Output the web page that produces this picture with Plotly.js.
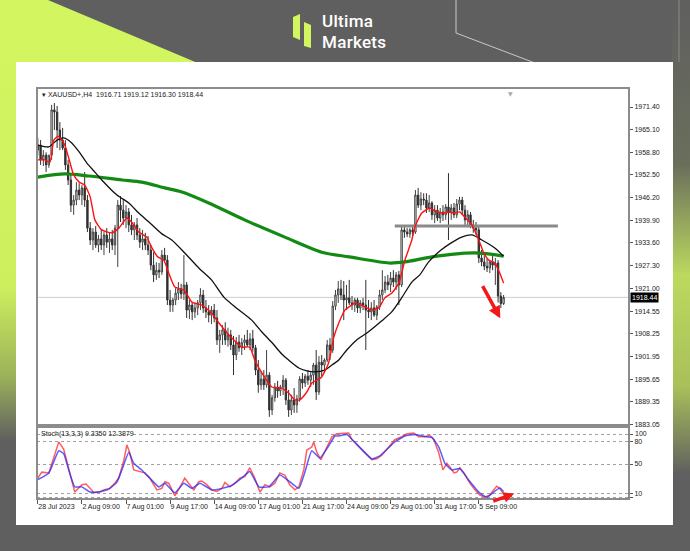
<!DOCTYPE html>
<html><head><meta charset="utf-8">
<script src="https://cdn.plot.ly/plotly-3.0.1.min.js"></script>
<style>
html,body{margin:0;padding:0;width:690px;height:551px;overflow:hidden;background:#5f5f5f;}
#bg{position:absolute;left:0;top:0;}
#panel{position:absolute;left:16px;top:62px;width:657px;height:463px;background:#fff;}
#logo{position:absolute;left:322px;top:11px;color:#fff;font-family:Roboto,'Liberation Sans',sans-serif;font-size:17px;line-height:20.5px;font-weight:500;letter-spacing:0.3px;}
#chart{position:absolute;left:0;top:0;width:690px;height:551px;}
</style></head>
<body>
<svg id="bg" width="690" height="551">
<defs>
<linearGradient id="gl" x1="0" y1="0" x2="0" y2="551" gradientUnits="userSpaceOnUse">
<stop offset="0" stop-color="#d3f660"/><stop offset="0.52" stop-color="#cdef5e"/><stop offset="0.68" stop-color="#9db35a"/><stop offset="0.8" stop-color="#5f5f5f"/><stop offset="1" stop-color="#5f5f5f"/>
</linearGradient>
<linearGradient id="gr" x1="0" y1="0" x2="0" y2="551" gradientUnits="userSpaceOnUse">
<stop offset="0" stop-color="#5f5f5f"/><stop offset="0.3" stop-color="#6a6f5c"/><stop offset="0.5" stop-color="#bcd95e"/><stop offset="0.7" stop-color="#a9c05b"/><stop offset="0.86" stop-color="#5f5f5f"/><stop offset="1" stop-color="#5f5f5f"/>
</linearGradient>
</defs>
<rect x="0" y="0" width="690" height="551" fill="#5f5f5f"/>
<rect x="0" y="0" width="17" height="551" fill="url(#gl)"/>
<polygon points="0,0 48,0 200,64 0,64" fill="#d3f660"/>
<rect x="672" y="0" width="18" height="551" fill="url(#gr)"/>
<polyline points="456,0 456,33 535,63" fill="none" stroke="#c9c9c9" stroke-width="1"/>
<line x1="679" y1="0" x2="679" y2="62" stroke="#8a8a8a" stroke-width="1"/>
<polygon points="293,17 300,14 300,40 293,37" fill="#d3f660"/>
<polygon points="304,22 311,25 311,48 304,46" fill="#d3f660"/>
</svg>
<div id="panel"></div>
<div id="logo">Ultima<br>Markets</div>
<div id="chart"></div>
<script>
// ---- price bars (H4, index 0 = 28 Jul 2023 17:00) ----
const barOpen = [1959.4,1960.8,1956.7,1958.0,1955.3,1958.0,1970.6,1970.0,1965.0,1962.2,
1960.0,1955.3,1951.1,1944.1,1945.5,1948.3,1946.9,1948.9,1945.5,1937.7,
1934.4,1936.6,1933.0,1934.7,1933.0,1935.8,1933.8,1934.7,1933.0,1937.7,
1944.1,1942.7,1940.5,1942.2,1938.6,1937.2,1938.6,1935.8,1933.8,1934.7,
1933.0,1931.6,1927.4,1924.7,1926.0,1925.5,1930.2,1928.8,1917.7,1916.3,
1917.7,1919.6,1920.8,1919.4,1921.9,1914.9,1916.3,1914.4,1915.5,1916.9,
1919.1,1915.5,1914.4,1913.5,1914.9,1912.7,1906.6,1908.0,1909.4,1906.6,
1908.0,1905.2,1902.4,1906.0,1904.4,1905.8,1906.6,1905.2,1906.9,1904.4,
1898.2,1894.1,1895.7,1894.1,1896.8,1887.1,1890.5,1893.5,1892.4,1893.5,
1895.4,1889.9,1887.1,1889.9,1888.5,1890.2,1895.7,1894.6,1896.5,1895.4,
1896.8,1899.6,1892.1,1900.4,1899.6,1901.0,1905.2,1903.8,1916.0,1919.1,
1920.8,1919.1,1917.7,1918.3,1916.9,1916.3,1917.7,1915.5,1916.9,1916.3,
1914.9,1914.4,1915.5,1913.5,1915.8,1919.1,1920.5,1922.7,1921.9,1923.8,
1922.7,1924.7,1921.9,1937.2,1936.6,1936.1,1937.2,1936.6,1946.9,1944.1,
1945.8,1945.5,1943.3,1944.7,1941.4,1942.7,1940.5,1942.2,1941.4,1943.6,
1942.2,1943.3,1941.4,1944.4,1945.5,1942.7,1940.0,1941.4,1938.6,1937.7,
1937.2,1929.4,1928.3,1927.1,1926.6,1928.3,1927.4,1928.0,1918.8,1916.71];
const barHigh = [1962.8,1962.2,1959.4,1958.8,1958.0,1972.0,1972.5,1971.7,1967.2,1965.6,
1962.2,1956.7,1952.5,1946.9,1950.5,1950.2,1949.7,1953.3,1946.9,1939.4,
1937.7,1938.3,1935.8,1937.2,1936.6,1937.7,1936.6,1937.2,1938.6,1945.5,
1946.6,1945.5,1944.1,1943.3,1941.4,1939.4,1940.5,1937.7,1937.2,1936.4,
1935.5,1933.0,1931.0,1928.2,1928.0,1931.6,1932.2,1930.2,1920.5,1918.3,
1921.0,1922.7,1922.2,1930.2,1922.7,1917.7,1917.1,1916.9,1917.7,1921.0,
1920.5,1917.7,1916.3,1916.0,1916.6,1914.9,1909.4,1910.7,1911.5,1910.0,
1909.4,1907.7,1907.4,1908.0,1907.1,1908.0,1909.4,1908.5,1909.4,1905.2,
1901.0,1897.9,1898.2,1903.8,1897.6,1891.3,1894.6,1895.2,1894.1,1896.8,
1896.0,1892.7,1891.3,1893.2,1891.3,1896.5,1897.4,1897.1,1898.2,1897.6,
1900.2,1903.8,1902.1,1902.4,1901.5,1906.6,1907.1,1917.4,1920.5,1923.0,
1923.3,1923.0,1921.9,1923.3,1918.8,1918.3,1918.3,1917.7,1918.3,1923.3,
1917.7,1917.1,1917.7,1916.3,1920.5,1926.0,1924.4,1924.7,1925.5,1926.0,
1925.5,1925.8,1938.3,1938.3,1937.7,1937.7,1938.6,1948.3,1948.9,1947.7,
1947.4,1947.4,1946.9,1945.2,1944.1,1944.1,1943.3,1944.1,1944.4,1953.0,
1944.4,1944.7,1945.8,1946.4,1946.4,1944.1,1942.7,1942.2,1940.0,1939.4,
1938.3,1931.6,1930.2,1929.1,1928.8,1930.2,1929.4,1928.8,1919.9,1919.12];
const barLow = [1958.0,1955.3,1955.0,1953.3,1954.5,1956.7,1965.0,1960.0,1959.4,1959.4,
1953.9,1949.7,1942.2,1941.4,1944.1,1945.5,1944.1,1943.6,1936.6,1933.0,
1931.6,1932.2,1931.0,1931.6,1930.2,1932.2,1930.8,1931.6,1930.2,1926.9,
1939.4,1938.6,1937.7,1936.6,1935.8,1934.4,1934.4,1932.2,1931.6,1931.6,
1930.2,1926.0,1922.7,1923.3,1923.8,1924.7,1928.5,1916.3,1914.4,1914.4,
1916.3,1917.7,1918.0,1917.7,1912.7,1912.4,1912.1,1912.7,1913.5,1914.9,
1914.1,1912.7,1911.5,1911.0,1911.5,1905.2,1903.0,1905.2,1905.2,1904.7,
1903.8,1896.8,1901.0,1903.3,1902.4,1903.8,1904.7,1903.8,1903.3,1896.8,
1891.9,1892.7,1892.7,1893.3,1885.2,1885.7,1889.4,1890.5,1891.0,1891.3,
1888.5,1885.2,1885.7,1886.3,1886.3,1889.4,1893.0,1893.5,1894.1,1893.5,
1894.1,1889.9,1891.3,1896.5,1897.6,1900.4,1901.0,1903.0,1914.9,1916.9,
1917.7,1912.1,1914.9,1916.3,1914.9,1914.4,1914.1,1914.1,1914.9,1903.8,
1912.7,1912.1,1913.0,1912.1,1914.9,1917.7,1919.6,1920.5,1919.9,1921.3,
1920.5,1916.3,1921.3,1935.0,1935.2,1935.0,1935.5,1936.1,1943.3,1942.7,
1944.1,1941.9,1942.2,1940.0,1939.1,1939.7,1939.1,1939.7,1940.0,1934.4,
1940.0,1940.5,1940.5,1942.7,1941.4,1938.6,1938.0,1937.7,1936.4,1935.8,
1928.0,1927.1,1926.0,1925.5,1925.2,1926.0,1921.9,1917.0,1915.5,1916.30];
const barClose = [1960.8,1956.7,1958.0,1955.3,1958.0,1970.6,1970.0,1965.0,1962.2,1960.0,
1955.3,1951.1,1944.1,1945.5,1948.3,1946.9,1948.9,1945.5,1937.7,1934.4,
1936.6,1933.0,1934.7,1933.0,1935.8,1933.8,1934.7,1933.0,1937.7,1944.1,
1942.7,1940.5,1942.2,1938.6,1937.2,1938.6,1935.8,1933.8,1934.7,1933.0,
1931.6,1927.4,1924.7,1926.0,1925.5,1930.2,1928.8,1917.7,1916.3,1917.7,
1919.6,1920.8,1919.4,1921.9,1914.9,1916.3,1914.4,1915.5,1916.9,1919.1,
1915.5,1914.4,1913.5,1914.9,1912.7,1906.6,1908.0,1909.4,1906.6,1908.0,
1905.2,1902.4,1906.0,1904.4,1905.8,1906.6,1905.2,1906.9,1904.4,1898.2,
1894.1,1895.7,1894.1,1896.8,1887.1,1890.5,1893.5,1892.4,1893.5,1895.4,
1889.9,1887.1,1889.9,1888.5,1890.2,1895.7,1894.6,1896.5,1895.4,1896.8,
1899.6,1892.1,1900.4,1899.6,1901.0,1905.2,1903.8,1916.0,1919.1,1920.8,
1919.1,1917.7,1918.3,1916.9,1916.3,1917.7,1915.5,1916.9,1916.3,1914.9,
1914.4,1915.5,1913.5,1915.8,1919.1,1920.5,1922.7,1921.9,1923.8,1922.7,
1924.7,1921.9,1937.2,1936.6,1936.1,1937.2,1936.6,1946.9,1944.1,1945.8,
1945.5,1943.3,1944.7,1941.4,1942.7,1940.5,1942.2,1941.4,1943.6,1942.2,
1943.3,1941.4,1944.4,1945.5,1942.7,1940.0,1941.4,1938.6,1937.7,1937.2,
1929.4,1928.3,1927.1,1926.6,1928.3,1927.4,1928.0,1918.8,1916.7,1918.44];

// ---- moving averages (bar index, price) ----
const redMaIdx = [0,2.5,4.4,5.8,7.3,8.7,9.8,11.2,13,15,17,19,20.7,23.2,26.8,29.4,32.3,34,36.6,39.5,41.4,43.5,45.7,47.5,49.7,53,55.9,59.5,63,65.7,70.4,74,76.9,78.7,81.3,84.9,88.5,91,93.3,95,97.6,99.4,101.2,103,105.5,107.4,109.2,111.4,113.9,115,118.7,121.2,123.7,125.9,128.4,131,133.2,135.7,136.8,139.3,142.2,144.8,147.3,149.1,150.9,153.1,154.9,157.5,160,161.8,163.6,165.8,167.6,169];
const redMaVal = [1956.7,1956.7,1956.1,1962.2,1963.3,1962.2,1960.8,1957.2,1952.5,1950.5,1949.7,1946.4,1940.0,1937.2,1936.4,1937.7,1940.5,1939.4,1936.6,1935.2,1932.2,1929.7,1928.8,1925.2,1921.3,1920.5,1917.1,1916.3,1914.1,1911.3,1907.1,1904.6,1904.6,1901.0,1897.4,1893.5,1893.2,1891.8,1889.9,1889.9,1892.1,1894.6,1895.4,1896.3,1900.2,1907.4,1911.3,1914.9,1916.3,1916.9,1915.8,1914.9,1915.5,1918.3,1919.6,1922.4,1928.8,1934.4,1938.0,1941.9,1943.3,1942.2,1941.9,1942.2,1941.9,1942.2,1940.8,1938.6,1934.4,1930.8,1928.8,1928.0,1925.2,1922.4];
const blackMaIdx = [0,4,7,9.4,12.3,15,17.8,20.7,23.2,28.7,33,36.6,40.3,45,48.6,53.3,58.4,63,67.5,71.5,77.6,81.3,85,88.5,91,94.7,97.6,100.5,104.1,106.7,109.2,112.1,115.7,119.4,124.8,128.4,132,135.7,138.6,141.8,146.3,150,153.8,157.5,161.1,165.8,169];
const blackMaVal = [1960.8,1960.3,1962.2,1962.8,1961.4,1958.9,1955.8,1953.3,1951.1,1946.9,1944.7,1941.9,1939.4,1936.1,1934.4,1930.8,1926.6,1923.3,1918.5,1915.8,1912.1,1908.8,1905.8,1902.7,1901.0,1898.8,1898.0,1897.7,1898.2,1899.6,1901.0,1903.8,1906.6,1908.5,1911.9,1914.4,1918.3,1922.7,1924.7,1928.3,1931.6,1933.6,1935.2,1935.8,1934.4,1932.2,1929.9];
const greenMaIdx = [0,9.8,18.5,30.5,37.7,46,52,62,75,89.6,103,113,127.4,133.2,143,158.6,169];
const greenMaVal = [1951.9,1952.8,1952.2,1951.1,1950.5,1948.9,1947.8,1944.7,1940.0,1935.2,1931.0,1929.7,1928.0,1928.3,1929.7,1930.8,1929.9];

// ---- stochastic (13,3,3) ----
const stochMainIdx = [0,1.45,4,5.5,7.6,9.4,11.2,13.4,16,17.5,19,20.3,22.1,23.9,26,27.9,29.4,31.2,32.3,33.4,34.8,36.6,38.8,40.6,43.2,45,46.1,47.5,49.3,49.7,51.5,53.3,54.5,56.6,58.4,59.5,61.3,63.1,64.9,66.8,67.9,69.7,71.5,73.3,75.1,76.9,78.7,80.6,82.4,84.2,86,87.8,89.6,91.4,93.3,94.7,96.5,97.6,99.4,100.1,101.2,102.7,104.9,106.7,108.5,111.4,112.8,113.9,115,117.6,119.4,121.2,123,124.8,127.4,129.5,132.1,133.9,136.4,138.2,140.4,142.2,143.7,145.5,147,148.4,149.5,151,152,153.1,154.6,156.8,158.6,160.4,162.2,164,165.4,166.5,167.6,169];
const stochMainVal = [31,39,38,55,80,70,42,12,22,23,17,11,12,15,17,24,31,55,76,65,42,40,38,31,15,17,26,24,11,7,18,31,25,15,26,27,22,15,13,17,25,19,24,31,33,45,31,12,22,19,24,38,35,22,15,19,42,69,73,80,66,56,73,87,91,91,92,83,79,69,62,56,57,62,73,83,87,91,92,87,87,89,83,65,42,51,46,38,39,45,38,24,15,8,5,8,15,20,17,9.3];
const stochSigIdx = [0,4,7.6,9.4,11.2,13.4,16,18.9,22.1,25.8,28.6,30.5,33,34.8,37.7,40.6,43.9,46.1,49.7,53,55.9,58.8,63.1,66.8,70.4,74,76.9,80.2,83.8,87.8,91.4,94.7,96.9,99.4,102.3,105.6,107.8,109.2,112.1,113.9,115.7,121.2,124.1,129.5,133.2,136.8,141.1,143,145.5,147.7,150.2,153.1,156.4,160,162.9,165.4,167.6,169];
const stochSigVal = [29,38,68,64,42,19,19,12,12,16,25,42,66,51,42,31,19,24,11,24,17,24,15,17,21,31,40,19,19,35,26,17,39,68,58,75,88,88,90,84,77,57,61,80,88,90,87,86,73,51,42,44,28,12,5,12,17.5,12.4];
const stochLabel = 'Stoch(13,3,3) 9.3350 12.3879';

// ---- axes labels ----
const xTickIdx = [0,16,32,48,64,80,96,112,128,144,160];
const xTickText = ['28 Jul 2023','2 Aug 09:00','7 Aug 01:00','9 Aug 17:00','14 Aug 09:00','17 Aug 01:00','21 Aug 17:00','24 Aug 09:00','29 Aug 01:00','31 Aug 17:00','5 Sep 09:00'];
const priceTicks = [1971.40,1965.10,1958.80,1952.50,1946.20,1939.90,1933.60,1927.30,1921.00,1914.55,1908.25,1901.95,1895.65,1889.35,1883.05];
const stochLevels = [90,80,50,10,5];
const stochLevelText = ['','80','50','10',''];
const stochTopLabel = '100';

// ---- drawn objects ----
const resistLine = {idx:[129.5,188.7], price:[1938.3,1938.3]};
const arrowMain = {fromIdx:161.1, fromPrice:1922.0, toIdx:167.8, toPrice:1912.6};
const arrowStoch = {fromIdx:164.7, fromVal:-1.0, toIdx:172.8, toVal:9.6};
const symbol = 'XAUUSD+,H4';

const idx = barClose.map((_, i) => i);
const n = barClose.length;
const lastClose = barClose[n-1];

const traces = [
  {type:'candlestick', x:idx, open:barOpen, high:barHigh, low:barLow, close:barClose,
   xaxis:'x', yaxis:'y', whiskerwidth:0,
   increasing:{line:{color:'#404040', width:1}, fillcolor:'#ffffff'},
   decreasing:{line:{color:'#303030', width:1}, fillcolor:'#303030'},
   hoverinfo:'skip', showlegend:false},
  {type:'scatter', mode:'lines', x:resistLine.idx, y:resistLine.price, xaxis:'x', yaxis:'y',
   line:{color:'#8a8a8a', width:3}, hoverinfo:'skip'},
  {type:'scatter', mode:'lines', x:greenMaIdx, y:greenMaVal, xaxis:'x', yaxis:'y',
   line:{color:'#138a13', width:3.2, shape:'spline', smoothing:0.8}, hoverinfo:'skip'},
  {type:'scatter', mode:'lines', x:blackMaIdx, y:blackMaVal, xaxis:'x', yaxis:'y',
   line:{color:'#111111', width:1.3, shape:'spline', smoothing:0.6}, hoverinfo:'skip'},
  {type:'scatter', mode:'lines', x:redMaIdx, y:redMaVal, xaxis:'x', yaxis:'y',
   line:{color:'#ff1010', width:1.4, shape:'spline', smoothing:0.5}, hoverinfo:'skip'},
  {type:'scatter', mode:'lines', x:stochMainIdx, y:stochMainVal, xaxis:'x', yaxis:'y2',
   line:{color:'rgba(255,40,40,0.75)', width:1.5}, hoverinfo:'skip'},
  {type:'scatter', mode:'lines', x:stochSigIdx, y:stochSigVal, xaxis:'x', yaxis:'y2',
   line:{color:'rgba(40,40,255,0.75)', width:1.5, shape:'spline', smoothing:0.4}, hoverinfo:'skip'}
];

const tf = {family:'Liberation Sans, Arial, sans-serif', size:7, color:'#222'};
const layout = {
  width:690, height:551,
  paper_bgcolor:'rgba(0,0,0,0)', plot_bgcolor:'rgba(0,0,0,0)',
  margin:{l:37, r:61, t:88, b:52},
  showlegend:false,
  font:tf,
  xaxis:{domain:[0,1], anchor:'y2', range:[-0.3,214.5], showgrid:false, zeroline:false, showline:false,
    tickmode:'array', tickvals:xTickIdx, ticktext:xTickText, ticks:'outside', ticklen:4, tickcolor:'#555',
    tickangle:0, ticklabelposition:'outside right', ticklabelstandoff:1, tickfont:tf, rangeslider:{visible:false}, fixedrange:true},
  yaxis:{domain:[0.18,1], anchor:'x', side:'right', range:[1882.92,1976.69], showgrid:false, zeroline:false, showline:false,
    tickmode:'array', tickvals:priceTicks, ticktext:priceTicks.map(v => v.toFixed(2)), ticks:'outside', ticklen:3, tickcolor:'#555', tickfont:tf},
  yaxis2:{domain:[0,0.1752], anchor:'x', side:'right', range:[2.6,100.2], zeroline:false, showline:false,
    tickmode:'array', tickvals:stochLevels, ticktext:stochLevelText, ticks:'outside', ticklen:3, tickcolor:'#555', tickfont:tf,
    showgrid:true, gridcolor:'#a0a0a0', griddash:'dot', gridwidth:1},
  shapes:[
    {type:'line', xref:'x domain', x0:0, x1:1, yref:'y', y0:lastClose, y1:lastClose, line:{color:'#cfcfcf', width:1}, layer:'below'},
    {type:'rect', xref:'x domain', x0:0, x1:1, yref:'y domain', y0:0, y1:1, line:{color:'#8c8c8c', width:2}},
    {type:'rect', xref:'x domain', x0:0, x1:1, yref:'y2 domain', y0:0, y1:1, line:{color:'#8c8c8c', width:2}}
  ],
  annotations:[
    {xref:'x domain', yref:'y domain', x:0.005, y:1, xanchor:'left', yanchor:'top', yshift:-1, showarrow:false,
     text:'▾ ' + symbol + '  ' + [barOpen[n-1], barHigh[n-1], barLow[n-1], barClose[n-1]].map(v => v.toFixed(2)).join(' '), font:tf},
    {xref:'x domain', yref:'y2 domain', x:0.003, y:1, xanchor:'left', yanchor:'top', yshift:-1, showarrow:false,
     text:stochLabel, font:tf},
    {xref:'x domain', yref:'y2 domain', x:1, y:1, xanchor:'left', yanchor:'top', xshift:4, yshift:-1, showarrow:false,
     text:stochTopLabel, font:tf},
    {xref:'x domain', yref:'y', x:1, y:lastClose, xanchor:'left', yanchor:'middle', xshift:1, showarrow:false,
     text:lastClose.toFixed(2), bgcolor:'#000', borderpad:1, font:{family:tf.family, size:7, color:'#fff'}},
    {xref:'x', yref:'y domain', x:n + 1.5, y:1, xanchor:'center', yanchor:'top', showarrow:false,
     text:'▼', font:{family:'DejaVu Sans', size:6, color:'#aaa'}},
    {xref:'x', yref:'y', x:arrowMain.toIdx, y:arrowMain.toPrice, axref:'x', ayref:'y', ax:arrowMain.fromIdx, ay:arrowMain.fromPrice,
     showarrow:true, arrowhead:2, arrowsize:0.7, arrowwidth:3.5, arrowcolor:'#f01818', text:''},
    {xref:'x', yref:'y2', x:arrowStoch.toIdx, y:arrowStoch.toVal, axref:'x', ayref:'y2', ax:arrowStoch.fromIdx, ay:arrowStoch.fromVal,
     showarrow:true, arrowhead:2, arrowsize:0.6, arrowwidth:3.5, arrowcolor:'#f01818', text:''}
  ]
};
Plotly.newPlot('chart', traces, layout, {displayModeBar:false, staticPlot:true});
</script>
</body></html>
